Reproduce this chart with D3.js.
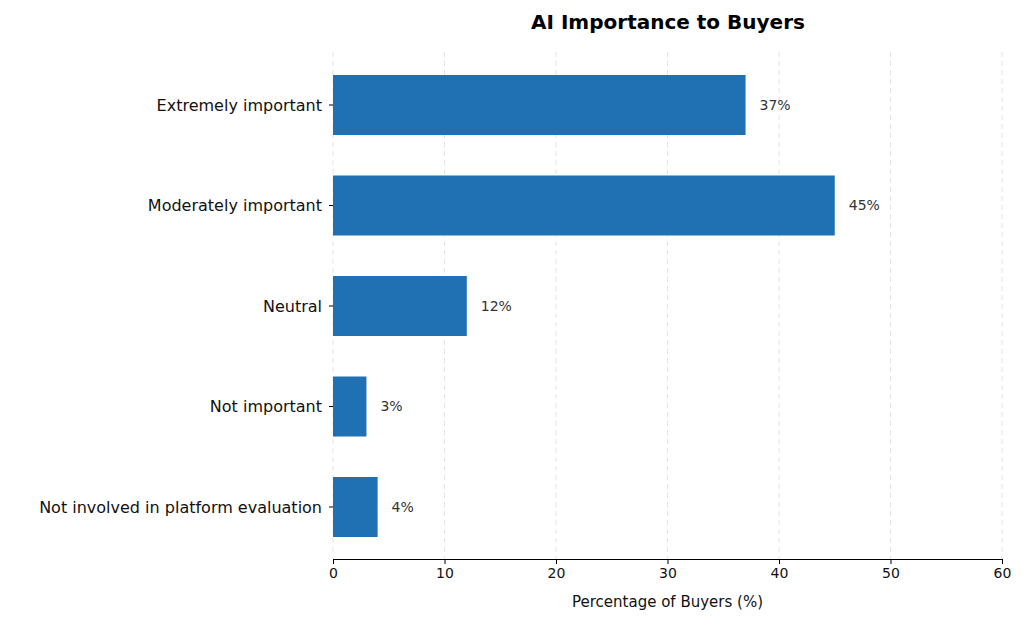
<!DOCTYPE html>
<html><head><meta charset="utf-8">
<script src="https://cdn.jsdelivr.net/npm/d3@7"></script>
<style>body{margin:0;background:#fff}text{font-family:"DejaVu Sans",sans-serif}</style>
</head><body>
<svg id="chart" width="1024" height="622"></svg>
<script>
const categories = ["Extremely important", "Moderately important", "Neutral", "Not important", "Not involved in platform evaluation"];
const values = [37, 45, 12, 3, 4];
const xTicks = [0, 10, 20, 30, 40, 50, 60];

const svg = d3.select("#chart");
const left = 333, right = 1002, axisY = 559;

const x = d3.scaleLinear().domain([0, 60]).range([left, right]);
const y = d3.scaleLinear().domain([0, 4]).range([105, 507]);
const barH = 60;

// dashed grid
svg.append("g").selectAll("line").data(xTicks).enter().append("line")
  .attr("x1", d => x(d)).attr("x2", d => x(d))
  .attr("y1", 52).attr("y2", axisY)
  .attr("stroke", "#dddddd").attr("stroke-dasharray", "5,4").attr("stroke-width", 0.8);

// bars
svg.append("g").selectAll("rect").data(values).enter().append("rect")
  .attr("x", x(0)).attr("y", (d, i) => y(i) - barH / 2)
  .attr("width", d => x(d) - x(0)).attr("height", barH)
  .attr("fill", "#2070b4");

// value labels
svg.append("g").selectAll("text").data(values).enter().append("text")
  .attr("x", d => x(d) + 14).attr("y", (d, i) => y(i))
  .attr("dy", "0.35em").attr("font-size", 14).attr("fill", "#333")
  .text(d => d + "%");

// category labels + ticks
const yg = svg.append("g");
categories.forEach((c, i) => {
  yg.append("line").attr("x1", left - 4).attr("x2", left).attr("y1", y(i)).attr("y2", y(i)).attr("stroke", "#000");
  yg.append("text").attr("x", left - 11).attr("y", y(i)).attr("dy", "0.35em")
    .attr("text-anchor", "end").attr("font-size", 16).attr("fill", "#111").text(c);
});

// x axis
const xAxis = d3.axisBottom(x).tickValues(xTicks).tickSizeOuter(0).tickSize(5).tickPadding(4);
const xg = svg.append("g").attr("transform", `translate(0,${axisY})`).call(xAxis);
xg.selectAll("text").attr("font-size", 14).attr("fill", "#111").attr("font-family", "DejaVu Sans");
xg.select(".domain").attr("stroke", "#000");

svg.append("text").attr("x", x(30)).attr("y", 607).attr("text-anchor", "middle")
  .attr("font-size", 15).attr("fill", "#111").text("Percentage of Buyers (%)");

svg.append("text").attr("x", 668).attr("y", 29).attr("text-anchor", "middle")
  .attr("font-size", 20).attr("font-weight", "bold").attr("fill", "#000").text("AI Importance to Buyers");
</script>
</body></html>
